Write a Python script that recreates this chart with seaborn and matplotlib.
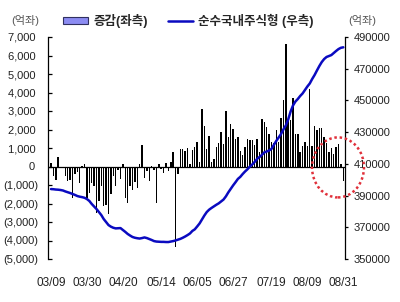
import numpy as np
import pandas as pd
import matplotlib
matplotlib.use("Agg")
import matplotlib.pyplot as plt
import seaborn as sns
from matplotlib.patches import Patch, Ellipse
from matplotlib.lines import Line2D
from matplotlib.ticker import FuncFormatter, FixedLocator

# ---- data (억좌) ----
change = [
    200, -540, -720, 490, 0, -60, -540, -800, -720, -1700,
    -400, -320, -870, 40, 150, -1700, -1440, -900, -1080, -2520,
    -1840, -1080, -2160, -2100, -2560, -1500, -540, -1080, -180, -680,
    150, -1680, -1980, -1080, -1260, -860, -1170, 150, 1170, -630,
    -270, -760, 50, -180, -1950, 150, -140, -360, 180, -220,
    250, 770, -4350, -410, 940, 970, 860, 1010, 150, 900,
    1050, 1330, 220, 3120, 2180, 920, 1660, 220, 410, 1030,
    1260, 1840, 1230, 3000, 1570, 2290, 2040, 1480, 1590, 860,
    630, 1050, 1460, 1440, 1440, 1170, 1460, 810, 2590, 2410,
    2140, 1730, 1330, 1260, 1960, 1350, 2610, 3570, 6630,
    2470, 2490, 3700, 1770, 1730, 810, 1120, 1350, 1120, 4180,
    1120, 2200, 1950, 2070, 2070, 1600, 1250, 810, 1000, 700,
    1050, 1220, 120, -760,
]
fund = [
    394100, 394000, 393800, 393700, 393500, 393200, 392600, 392100, 391600, 391000,
    390400, 389700, 389300, 389000, 388600, 387800, 386600, 384700, 383100, 381500,
    379600, 377700, 375200, 373300, 371400, 370400, 369700, 369300, 369400, 369500,
    368300, 367100, 365800, 364800, 363900, 363400, 363100, 362900, 363200, 363600,
    363200, 362600, 362000, 361300, 361000, 360900, 360800, 360800, 360700, 360700,
    361000, 361300, 361700, 362200, 362700, 363400, 364200, 365100, 366100, 367700,
    368700, 370500, 372400, 374900, 377400, 379600, 381100, 382200, 383200, 384200,
    385100, 386300, 387500, 389500, 392000, 394200, 396400, 398400, 400500, 401800,
    403600, 405200, 406600, 408300, 409600, 411200, 413100, 414300, 415600, 417200,
    417800, 418400, 419400, 421900, 424400, 426600, 428800, 431700, 434200, 438000,
    443000, 446800, 449300, 450900, 452800, 454400, 456600, 458800, 460700, 463500,
    466000, 468900, 471700, 474200, 476100, 477400, 478000, 478600, 479900, 481200,
    482400, 483200, 483500,
]
tick_pos = [0, 15, 30, 46, 61, 76, 92, 107, 122]
tick_labels = ["03/09", "03/30", "04/20", "05/14", "06/05", "06/27", "07/19", "08/09", "08/31"]
legend_labels = ["증감(좌측)", "순수국내주식형 (우측)"]
unit_label = "(억좌)"

df = pd.DataFrame({"idx": np.arange(len(change)), "change": change, "fund": fund})

sns.set_style("white")
plt.rcParams["font.family"] = ["Liberation Sans", "Noto Sans CJK KR", "DejaVu Sans"]

W, H = 400, 302
fig = plt.figure(figsize=(W / 100, H / 100), dpi=100)
ax = fig.add_axes([48 / W, 43 / H, 297 / W, 222 / H])

sns.barplot(data=df, x="idx", y="change", native_scale=True, color="black",
            width=0.6, saturation=1, linewidth=0, ax=ax)
ax.axhline(0, color="black", lw=0.9, zorder=3)

ax2 = ax.twinx()
sns.lineplot(data=df, x="idx", y="fund", ax=ax2, color="#0A0AC0", lw=1.8)

step = 2.396
xl = (-(51 - 48) / step, (345 - 51) / step)

ell = Ellipse(((338 - 51) / step, -50), width=52 / step, height=60 / 18.5 * 1000,
              transform=ax.transData, fill=False, edgecolor="#E0303A",
              ls=(0, (1, 1.1)), lw=1.8, clip_on=False, zorder=10)
ax2.add_patch(ell)

ax.set_xlim(*xl)
ax2.set_xlim(*xl)
ax.set_ylim(-5000, 7000)
ax2.set_ylim(350000, 490000)

for s in ["top", "bottom", "right"]:
    ax.spines[s].set_visible(False)
for s in ["top", "bottom", "left"]:
    ax2.spines[s].set_visible(False)
ax.spines["left"].set_color("black")
ax.spines["left"].set_linewidth(0.9)
ax2.spines["right"].set_color("black")
ax2.spines["right"].set_linewidth(0.9)

ax.yaxis.set_major_locator(FixedLocator(list(range(-5000, 7001, 1000))))
ax.yaxis.set_major_formatter(FuncFormatter(
    lambda v, p: f"{int(v):,} " if v >= 0 else f"({int(-v):,})"))
ax.tick_params(axis="y", direction="in", length=3, width=0.9, pad=7,
               labelsize=8, colors="black", labelcolor="#222222", left=True)

ax2.yaxis.set_major_locator(FixedLocator(list(range(350000, 490001, 20000))))
ax2.yaxis.set_major_formatter(FuncFormatter(lambda v, p: f"{int(v)}"))
ax2.tick_params(axis="y", direction="out", length=2.5, width=0.9, pad=4,
                labelsize=8, colors="black", labelcolor="#222222", right=True)

ax.set_xticks(tick_pos)
ax.set_xticklabels(tick_labels)
ax.tick_params(axis="x", length=0, pad=13, labelsize=8.5, labelcolor="#222222")

for a in (ax, ax2):
    a.set_xlabel("")
    a.set_ylabel("")
    a.grid(False)

fig.text(25 / W, 1 - 20 / H, unit_label, ha="center", va="center", fontsize=8, color="#555555")
fig.text(362 / W, 1 - 20 / H, unit_label, ha="center", va="center", fontsize=8, color="#555555")

handles = [Patch(facecolor="#8C8CF2", edgecolor="#303060", linewidth=0.8),
           Line2D([0], [0], color="#0A0AC0", lw=1.8)]
fig.legend(handles, legend_labels, loc="center left",
           bbox_to_anchor=(63 / W, 1 - 20.5 / H), ncol=2, frameon=False,
           prop={"weight": "bold", "size": 9}, handlelength=2.0, handleheight=0.5,
           handletextpad=0.4, columnspacing=1.6, borderpad=0, borderaxespad=0)

fig.savefig("out.png", dpi=100)
